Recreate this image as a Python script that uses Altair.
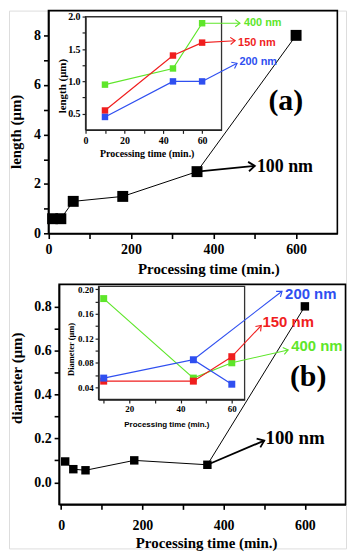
import math
import altair as alt
import pandas as pd

# ---------------- data ----------------
main_time = [10, 30, 60, 180, 360, 600]
main_length = [0.6, 0.6, 1.3, 1.5, 2.5, 8.0]
main_diameter = [0.095, 0.06, 0.055, 0.10, 0.08, 0.80]

inset_time = [10, 45, 60]
inset_length_400 = [0.95, 1.20, 1.90]
inset_length_150 = [0.55, 1.40, 1.60]
inset_length_200 = [0.45, 1.00, 1.00]
inset_diameter_400 = [0.185, 0.055, 0.080]
inset_diameter_150 = [0.050, 0.050, 0.090]
inset_diameter_200 = [0.055, 0.085, 0.045]

series_names = ["400 nm", "150 nm", "200 nm"]
series_colors = ["#5ee62a", "#f01e1e", "#2f4ff0"]

# annotation arrows: [x_start, y_start, x_end, y_end] and label anchors [x, y]
arrow_a_main = [360, 2.5, 500, 2.73]
label_a_main = [505, 2.68]
arrow_a_inset = [[60, 1.90, 79.5, 1.90], [60, 1.60, 77, 1.63], [60, 1.00, 78, 1.28]]
label_a_inset = [[81.5, 1.91], [78.5, 1.60], [79.2, 1.30]]

arrow_b_main = [360, 0.08, 500, 0.19]
label_b_main = [503, 0.20]
arrow_b_inset = [[60, 0.080, 82, 0.101], [60, 0.090, 71.5, 0.141], [45, 0.085, 79.6, 0.197]]
label_b_inset = [[83.2, 0.108], [72, 0.146], [80.8, 0.193]]

panel_a_label = [575, 5.35]
panel_b_label = [608, 0.48]

# axis domains
a_x_dom, a_y_dom = [0, 700], [0, 9]
a_ix_dom, a_iy_dom = [0, 70], [0.25, 2.0]
b_x_dom, b_y_dom = [-5, 700], [-0.1, 0.9]
b_ix_dom, b_iy_dom = [8, 65], [0.02, 0.205]

# ---------------- layout (pixels inside one 339 x 541 drawing area) ----------------
W, H = 339, 541
A_RX, A_RY = [39.7, 330.3], [224.3, 0.0]
AI_RX, AI_RY = [77.0, 213.8], [120.0, 6.2]
B_RX, B_RY = [50.4, 338.5], [496.7, 275.4]
BI_RX, BI_RY = [90.1, 237.0], [391.2, 277.4]

SERIF = "Liberation Serif"
SANS = "Liberation Sans"
ARROW = "M-1,-0.75L0,0L-1,0.75"


def lin(v, d, r):
    return r[0] + (v - d[0]) / (d[1] - d[0]) * (r[1] - r[0])


def head_angle(a, dx, dy, rx, ry):
    px0, py0 = lin(a[0], dx, rx), lin(a[1], dy, ry)
    px1, py1 = lin(a[2], dx, rx), lin(a[3], dy, ry)
    return math.degrees(math.atan2(py1 - py0, px1 - px0)) % 360


def xenc(dom, rng, axis=None, field="x"):
    return alt.X(f"{field}:Q", scale=alt.Scale(domain=dom, range=rng, nice=False, zero=False),
                 axis=axis)


def yenc(dom, rng, axis=None, field="y"):
    return alt.Y(f"{field}:Q", scale=alt.Scale(domain=dom, range=rng, nice=False, zero=False),
                 axis=axis)


def series(time, vals, color, size, width, dx, dy, rx, ry):
    df = pd.DataFrame({"x": time, "y": vals})
    line = alt.Chart(df).mark_line(color=color, strokeWidth=width).encode(
        x=xenc(dx, rx), y=yenc(dy, ry))
    pts = alt.Chart(df).mark_square(color=color, size=size, opacity=1).encode(
        x=xenc(dx, rx), y=yenc(dy, ry))
    return [line, pts]


def arrow(a, lab, text, color, dx, dy, rx, ry, head=100, sw=1.0, font=SANS, fs=11):
    df = pd.DataFrame({"x": [a[0]], "y": [a[1]], "x1": [a[2]], "y1": [a[3]]})
    rule = alt.Chart(df).mark_rule(color=color, strokeWidth=sw).encode(
        x=xenc(dx, rx), y=yenc(dy, ry), x2="x1:Q", y2="y1:Q")
    ang = head_angle(a, dx, dy, rx, ry)
    hd = alt.Chart(df).mark_point(shape=ARROW, filled=False, color=color, opacity=1,
                                  size=head, strokeWidth=sw, angle=ang).encode(
        x=xenc(dx, rx, field="x1"), y=yenc(dy, ry, field="y1"))
    tdf = pd.DataFrame({"x": [lab[0]], "y": [lab[1]]})
    txt = alt.Chart(tdf).mark_text(text=text, align="left", baseline="middle", font=font,
                                   fontWeight="bold", fontSize=fs, color=color).encode(
        x=xenc(dx, rx), y=yenc(dy, ry))
    return [rule, hd, txt]


def label(pos, text, dx, dy, rx, ry, fs=30):
    tdf = pd.DataFrame({"x": [pos[0]], "y": [pos[1]]})
    return alt.Chart(tdf).mark_text(text=text, align="center", baseline="middle", font=SERIF,
                                    fontWeight="bold", fontSize=fs, color="black").encode(
        x=xenc(dx, rx), y=yenc(dy, ry))


def main_style(label_pad):
    return dict(domainColor="black", domainWidth=1.6, tickColor="black", tickWidth=1.6,
                tickSize=5, labelFont=SERIF, labelFontWeight="bold", labelFontSize=14,
                labelColor="black", titleFont=SERIF, titleFontWeight="bold", titleFontSize=15,
                titleColor="black", grid=False, labelPadding=label_pad, labelFlush=False,
                labelOverlap=False, titleBaseline="middle", titleAlign="center", zindex=1)


def inset_style(label_fs, title_font, title_fs):
    return dict(domainColor="#222", domainWidth=1.3, tickColor="#222", tickWidth=1.2,
                tickSize=3.5, labelFont=SERIF, labelFontWeight="bold", labelFontSize=label_fs,
                labelColor="black", titleFont=title_font, titleFontWeight="bold",
                titleFontSize=title_fs, titleColor="black", grid=False, labelPadding=2,
                labelFlush=False, labelOverlap=False, titleBaseline="middle",
                titleAlign="center", zindex=1)


def frame(dx, dy, rx, ry, xaxis, yaxis, fill, stroke, sw):
    df = pd.DataFrame({"x": [dx[0]], "x1": [dx[1]], "y": [dy[0]], "y1": [dy[1]]})
    kw = dict(fill="white") if fill else dict(fillOpacity=0)
    return alt.Chart(df).mark_rect(stroke=stroke, strokeWidth=sw, **kw).encode(
        x=xenc(dx, rx, xaxis), x2="x1:Q", y=yenc(dy, ry, yaxis), y2="y1:Q")


layers = []

# ---------------- panel (a) ----------------
a_xaxis = alt.Axis(title="Processing time (min.)", orient="bottom", offset=A_RY[0] - H,
                   values=list(range(0, 700, 100)),
                   labelExpr="datum.value % 200 == 0 ? datum.label : ''",
                   titleX=200.5, titleY=35.5, **main_style(4))
a_yaxis = alt.Axis(title="length (μm)", orient="left", offset=-A_RX[0],
                   values=list(range(0, 9)),
                   labelExpr="datum.value % 2 == 0 ? datum.label : ''",
                   titleAngle=270, titleX=-33, titleY=121.5, **main_style(3))
layers.append(frame(a_x_dom, a_y_dom, A_RX, A_RY, a_xaxis, a_yaxis, False, "black", 1.6))
layers += series(main_time, main_length, "black", 121, 1.0, a_x_dom, a_y_dom, A_RX, A_RY)
layers += arrow(arrow_a_main, label_a_main, "100 nm", "black", a_x_dom, a_y_dom, A_RX, A_RY,
                head=160, sw=1.8, font=SERIF, fs=18)
layers.append(label(panel_a_label, "(a)", a_x_dom, a_y_dom, A_RX, A_RY))

ai_xaxis = alt.Axis(title="Processing time (min.)", orient="bottom", offset=AI_RY[0] - H,
                    values=list(range(0, 70, 10)),
                    labelExpr="datum.value % 20 == 0 ? datum.label : ''",
                    titleX=138.5, titleY=24.0, **inset_style(10, SERIF, 10))
ai_yaxis = alt.Axis(title="length (μm)", orient="left", offset=-AI_RX[0],
                    values=[0.5, 0.75, 1.0, 1.25, 1.5, 1.75, 2.0],
                    labelExpr="(datum.value * 2) % 1 == 0 ? format(datum.value, '.1f') : ''",
                    titleAngle=270, titleX=-23, titleY=75.5, **inset_style(10, SERIF, 11))
layers.append(frame(a_ix_dom, a_iy_dom, AI_RX, AI_RY, ai_xaxis, ai_yaxis, True, "#333", 1.3))
for vals, col in zip([inset_length_400, inset_length_150, inset_length_200], series_colors):
    layers += series(inset_time, vals, col, 42, 1.2, a_ix_dom, a_iy_dom, AI_RX, AI_RY)
for a, lab, name, col in zip(arrow_a_inset, label_a_inset, series_names, series_colors):
    layers += arrow(a, lab, name, col, a_ix_dom, a_iy_dom, AI_RX, AI_RY,
                    head=90, sw=1.1, font=SANS, fs=11)

# ---------------- panel (b) ----------------
b_xaxis = alt.Axis(title="Processing time (min.)", orient="bottom", offset=B_RY[0] - H,
                   values=list(range(0, 700, 100)),
                   labelExpr="datum.value % 200 == 0 ? datum.label : ''",
                   titleX=198.3, titleY=38.0, **main_style(9))
b_yaxis = alt.Axis(title="diameter (μm)", orient="left", offset=-B_RX[0],
                   values=[0, 0.1, 0.2, 0.3, 0.4, 0.5, 0.6, 0.7, 0.8],
                   labelExpr="round(datum.value * 10) % 2 == 0 ? format(datum.value, '.1f') : ''",
                   titleAngle=270, titleX=-42.5, titleY=369.3, **main_style(3))
layers.append(frame(b_x_dom, b_y_dom, B_RX, B_RY, b_xaxis, b_yaxis, False, "black", 1.6))
layers += series(main_time, main_diameter, "black", 72, 1.0, b_x_dom, b_y_dom, B_RX, B_RY)
layers += arrow(arrow_b_main, label_b_main, "100 nm", "black", b_x_dom, b_y_dom, B_RX, B_RY,
                head=160, sw=1.8, font=SERIF, fs=19)
layers.append(label(panel_b_label, "(b)", b_x_dom, b_y_dom, B_RX, B_RY))

bi_xaxis = alt.Axis(title="Processing time (min.)", orient="bottom", offset=BI_RY[0] - H,
                    values=list(range(10, 70, 10)),
                    labelExpr="datum.value % 20 == 0 ? datum.label : ''",
                    titleX=158.3, titleY=25.0, **inset_style(9, SANS, 8))
bi_yaxis = alt.Axis(title="Diameter (μm)", orient="left", offset=-BI_RX[0],
                    values=[0.04, 0.06, 0.08, 0.10, 0.12, 0.14, 0.16, 0.18, 0.20],
                    labelExpr="round(datum.value * 100) % 4 == 0 ? format(datum.value, '.2f') : ''",
                    titleAngle=270, titleX=-28.5, titleY=340.3, **inset_style(9, SERIF, 8.5))
layers.append(frame(b_ix_dom, b_iy_dom, BI_RX, BI_RY, bi_xaxis, bi_yaxis, True, "#333", 1.3))
for vals, col in zip([inset_diameter_400, inset_diameter_150, inset_diameter_200], series_colors):
    layers += series(inset_time, vals, col, 49, 1.2, b_ix_dom, b_iy_dom, BI_RX, BI_RY)
for a, lab, name, col in zip(arrow_b_inset, label_b_inset, series_names, series_colors):
    layers += arrow(a, lab, name, col, b_ix_dom, b_iy_dom, BI_RX, BI_RY,
                    head=90, sw=1.1, font=SANS, fs=15)

chart = alt.layer(*layers).properties(width=W, height=H, padding=0).resolve_scale(
    x="independent", y="independent").configure_view(stroke=None).configure(
    background="white")

chart.save("out.html", embed_options={"renderer": "svg", "actions": False})
